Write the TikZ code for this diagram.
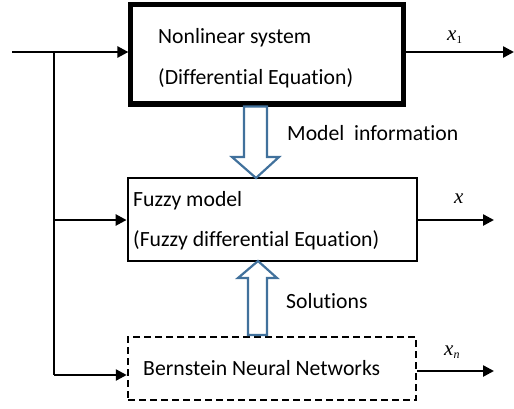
\documentclass[tikz,border=0pt]{standalone}
\usepackage{fontspec}
\setmainfont{Carlito}[Ligatures={NoCommon}]
\newfontfamily\timesfont{Liberation Serif}
\usetikzlibrary{arrows.meta,calc}
\definecolor{arrowblue}{RGB}{65,113,156}
\begin{document}
\begin{tikzpicture}[x=1pt,y=-1pt,
  txt/.style={anchor=base west, inner sep=0pt, font=\fontsize{21.7}{26}\selectfont},
  var/.style={anchor=base west, inner sep=0pt, font=\timesfont\itshape\fontsize{21}{24}\selectfont},
  conn/.style={line width=2.5pt, -{Triangle[length=11pt,width=11pt]}},
  plain/.style={line width=2.5pt},
  hollow/.style={draw=arrowblue, line width=2.2pt, fill=white, line join=miter},
  boxsolid/.style={draw, line width=2.8pt, inner sep=0pt},
  boxdash/.style={draw, line width=2.5pt, dash pattern=on 7pt off 4pt, inner sep=0pt}]
\useasboundingbox (0,0) rectangle (514,408);

% boxes
\node[draw, line width=3.2pt, inner sep=0pt, minimum width=274.5pt, minimum height=101pt] (sys) at (267.25,54.5) {};
\draw[line width=1.6pt] ($(sys.north west)+(4,3.5)$) rectangle ($(sys.south east)+(-4,-4.5)$);
\node[boxsolid, minimum width=289pt, minimum height=83pt] (fuzzy) at (272.5,219.5) {};
\node[boxdash, minimum width=288pt, minimum height=63pt] (bnn) at (272,368.5) {};

% texts
\node[txt] (t1) at (158,43) {Nonlinear system};
\node[txt] (t2) at (158,84) {(Differential Equation)};
\node[txt] (t3) at (133,206) {Fuzzy model};
\node[txt] (t4) at (133,246) {(Fuzzy differential Equation)};
\node[txt] (t5) at (143,375) {Bernstein Neural Networks};
\node[txt] (t6) at (287,140) {Model\ \ information};
\node[txt] (t7) at (286,308) {Solutions};

% output labels
\node[var] (x1) at (447,40) {x\raisebox{-3pt}{\upshape\fontsize{11}{11}\selectfont 1}};
\node[var] (x0) at (454,203) {x};
\node[var] (xn) at (444,355) {x\raisebox{-3pt}{\fontsize{12}{12}\selectfont n}};

% input connectors
\coordinate (in) at (12,52);
\coordinate (br) at (54,52);
\coordinate (bend) at (54,375);
\draw[conn] (in) -- (in -| sys.west);
\draw[plain] (br) -- (bend);
\draw[conn] (54,220) -- (fuzzy.west |- 0,220);
\draw[conn] (bend) -- (bend -| bnn.west);

% output connectors
\coordinate (o1) at (514,52);
\coordinate (o2) at (494,220);
\coordinate (o3) at (494,371);
\draw[conn] (o1 -| sys.east) -- (o1);
\draw[conn] (o2 -| fuzzy.east) -- (o2);
\draw[conn] (o3 -| bnn.east) -- (o3);

% hollow block arrows
\draw[hollow] (244,106.5) -- (244,157) -- (232,157) -- (256,178) -- (279,157) -- (267,157) -- (267,106.5) -- cycle;
\draw[hollow] (248,335) -- (248,278) -- (238,278) -- (258,261) -- (277,278) -- (267,278) -- (267,335) -- cycle;
\end{tikzpicture}
\end{document}
